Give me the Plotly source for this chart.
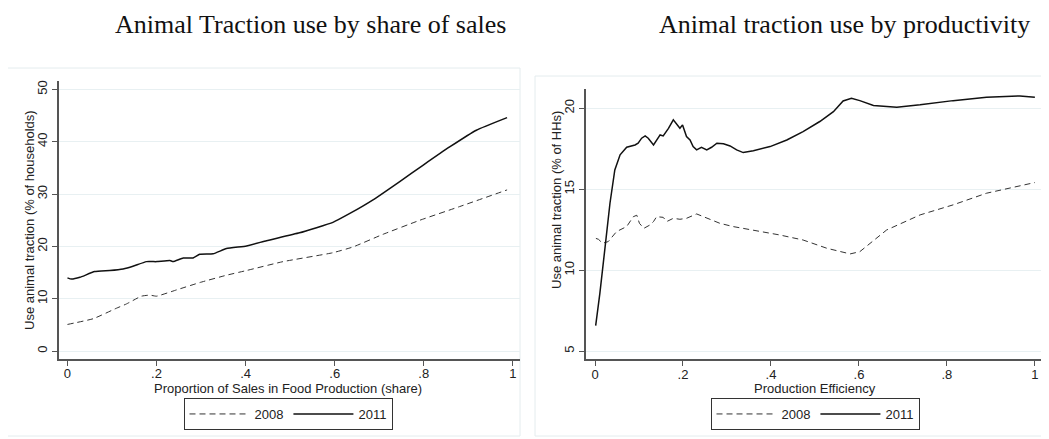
import plotly.graph_objects as go

# ---- Left panel: Animal traction use by share of sales ----
sales_x_2011 = [0.0, 0.009, 0.028, 0.061, 0.095, 0.125, 0.147, 0.177, 0.2, 0.23, 0.237, 0.26, 0.282,
                0.297, 0.327, 0.357, 0.402, 0.447, 0.521, 0.596, 0.634, 0.686, 0.746, 0.798, 0.858,
                0.918, 0.987]
sales_y_2011 = [14.0, 13.76, 14.1, 15.2, 15.4, 15.7, 16.2, 17.1, 17.1, 17.3, 17.1, 17.8, 17.8,
                18.5, 18.6, 19.6, 20.1, 21.1, 22.6, 24.6, 26.3, 28.9, 32.4, 35.5, 39.0,
                42.2, 44.6]
sales_x_2008 = [0.0, 0.058, 0.11, 0.132, 0.166, 0.185, 0.2, 0.245, 0.297, 0.357, 0.402, 0.484,
                0.596, 0.641, 0.708, 0.791, 0.88, 0.987]
sales_y_2008 = [5.1, 6.2, 8.2, 9.0, 10.5, 10.7, 10.5, 11.7, 13.1, 14.5, 15.4, 17.1,
                18.8, 19.9, 22.3, 25.0, 27.6, 30.8]

# ---- Right panel: Animal traction use by productivity ----
eff_x_2011 = [0.0015, 0.011, 0.023, 0.034, 0.045, 0.057, 0.072, 0.091, 0.098, 0.106, 0.114, 0.121,
              0.133, 0.14, 0.148, 0.155, 0.167, 0.178, 0.186, 0.193, 0.199, 0.208, 0.216, 0.223,
              0.231, 0.242, 0.254, 0.265, 0.277, 0.292, 0.307, 0.322, 0.337, 0.36, 0.398, 0.436,
              0.473, 0.511, 0.542, 0.564, 0.583, 0.602, 0.633, 0.686, 0.739, 0.814, 0.89, 0.966, 1.0]
eff_y_2011 = [6.57, 8.56, 11.45, 14.13, 16.19, 17.12, 17.59, 17.73, 17.84, 18.15, 18.29, 18.15,
              17.73, 18.04, 18.35, 18.29, 18.76, 19.28, 18.97, 18.76, 18.97, 18.25, 18.04, 17.63,
              17.43, 17.59, 17.43, 17.59, 17.84, 17.80, 17.67, 17.43, 17.26, 17.38, 17.63, 18.04,
              18.56, 19.18, 19.79, 20.45, 20.62, 20.47, 20.17, 20.06, 20.21, 20.47, 20.68, 20.76, 20.68]
eff_x_2008 = [0.002, 0.008, 0.017, 0.03, 0.049, 0.072, 0.087, 0.095, 0.101, 0.111, 0.125, 0.133,
              0.14, 0.155, 0.163, 0.178, 0.193, 0.208, 0.231, 0.254, 0.284, 0.314, 0.36, 0.42,
              0.473, 0.527, 0.58, 0.602, 0.663, 0.739, 0.814, 0.89, 1.0]
eff_y_2008 = [11.96, 11.9, 11.66, 11.76, 12.38, 12.69, 13.3, 13.39, 12.89, 12.58, 12.79, 13.0,
              13.3, 13.26, 13.0, 13.2, 13.14, 13.2, 13.47, 13.2, 12.89, 12.69, 12.48, 12.17,
              11.86, 11.35, 11.0, 11.14, 12.48, 13.41, 14.03, 14.75, 15.41]

x_tickvals = [0, 0.2, 0.4, 0.6, 0.8, 1]
x_ticktext = ["0", ".2", ".4", ".6", ".8", "1"]
left_yticks = [0, 10, 20, 30, 40, 50]
right_yticks = [5, 10, 15, 20]

# The page body has an 8px margin; figure coordinates below are in window pixels.
OFF = 8
W, H = 1041, 431
def px(x):
    return (x - OFF) / W
def py(y):
    return 1 - (y - OFF) / H

fig = go.Figure()
dash_style = "6px,4px"
fig.add_trace(go.Scatter(x=sales_x_2008, y=sales_y_2008, mode="lines", name="2008",
                         line=dict(color="#333333", width=1, dash=dash_style, shape="spline", smoothing=0.4),
                         xaxis="x", yaxis="y", legend="legend"))
fig.add_trace(go.Scatter(x=sales_x_2011, y=sales_y_2011, mode="lines", name="2011",
                         line=dict(color="#111111", width=1.5, shape="spline", smoothing=0.4),
                         xaxis="x", yaxis="y", legend="legend"))
fig.add_trace(go.Scatter(x=eff_x_2008, y=eff_y_2008, mode="lines", name="2008",
                         line=dict(color="#333333", width=1, dash=dash_style),
                         xaxis="x2", yaxis="y2", legend="legend2"))
fig.add_trace(go.Scatter(x=eff_x_2011, y=eff_y_2011, mode="lines", name="2011",
                         line=dict(color="#111111", width=1.5),
                         xaxis="x2", yaxis="y2", legend="legend2"))

axis_common = dict(showline=True, linecolor="#555555", linewidth=1.5, ticks="outside",
                   ticklen=5, tickcolor="#555555", zeroline=False, mirror=False,
                   tickfont=dict(family="Liberation Sans, Arial", size=13, color="#222222"))

fig.update_layout(
    width=W, height=H, margin=dict(l=0, r=0, t=0, b=0),
    paper_bgcolor="white", plot_bgcolor="white",
    xaxis=dict(domain=[px(59), px(520)], range=[-0.019, 1.016], anchor="y",
               tickvals=x_tickvals, ticktext=x_ticktext, showgrid=False,
               ticklabelstandoff=-3, **axis_common),
    yaxis=dict(domain=[py(359), py(81)], range=[-1.5, 51.6], anchor="x",
               tickvals=left_yticks, tickangle=-90, showgrid=True, gridcolor="#e8f0f2",
               gridwidth=1, **axis_common),
    xaxis2=dict(domain=[px(586), px(1045)], range=[-0.0205, 1.023], anchor="y2",
                tickvals=x_tickvals, ticktext=x_ticktext, showgrid=False,
                ticklabelstandoff=-3, **axis_common),
    yaxis2=dict(domain=[py(359.3), py(89.3)], range=[4.49, 21.17], anchor="x2",
                tickvals=right_yticks, tickangle=-90, showgrid=True, gridcolor="#e8f0f2",
                gridwidth=1, **axis_common),
    legend=dict(orientation="h", x=px(288), xanchor="center", y=py(398), yanchor="top",
                bordercolor="#333333", borderwidth=1, bgcolor="white",
                font=dict(family="Liberation Sans, Arial", size=13, color="#222222"),
                itemwidth=60, tracegroupgap=0),
    legend2=dict(orientation="h", x=px(815), xanchor="center", y=py(398), yanchor="top",
                 bordercolor="#333333", borderwidth=1, bgcolor="white",
                 font=dict(family="Liberation Sans, Arial", size=13, color="#222222"),
                 itemwidth=60, tracegroupgap=0),
    showlegend=True,
)

txt_font = dict(family="Liberation Sans, Arial", size=13, color="#222222")
title_font = dict(family="Liberation Serif, Times New Roman", size=26, color="#111111")
annotations = [
    dict(text="Animal Traction use by share of sales", x=px(310), y=py(25), font=title_font),
    dict(text="Animal traction use by productivity", x=px(844), y=py(25), font=title_font),
    dict(text="Proportion of Sales in Food Production (share)", x=px(288), y=py(388), font=txt_font),
    dict(text="Production Efficiency", x=px(815), y=py(388), font=txt_font),
    dict(text="Use animal traction (% of households)", x=px(29), y=py(220), font=txt_font, textangle=-90),
    dict(text="Use animal traction (% of HHs)", x=px(556), y=py(200), font=txt_font, textangle=-90),
]
for a in annotations:
    a.update(xref="paper", yref="paper", showarrow=False, xanchor="center", yanchor="middle")
fig.update_layout(annotations=annotations)

# faint panel borders (graph regions)
fig.add_shape(type="rect", xref="paper", yref="paper", x0=px(7.5), x1=px(520), y0=py(436), y1=py(68),
              line=dict(color="#e4ecee", width=1), fillcolor="rgba(0,0,0,0)", layer="below")
fig.add_shape(type="rect", xref="paper", yref="paper", x0=px(535), x1=px(1049), y0=py(436), y1=py(76),
              line=dict(color="#e4ecee", width=1), fillcolor="rgba(0,0,0,0)", layer="below")

fig.write_html("out.html")
